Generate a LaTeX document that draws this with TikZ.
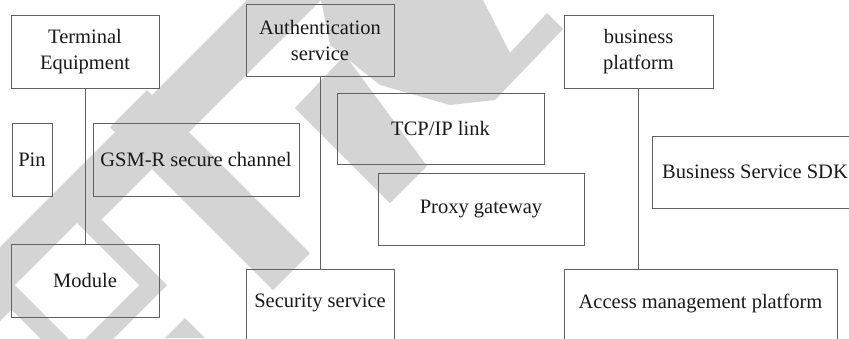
\documentclass[tikz,border=0pt]{standalone}
\usepackage{fontspec}
\setmainfont{Liberation Serif}
\begin{document}
\begin{tikzpicture}[x=1pt,y=-1pt,
  box/.style={draw=black!62,line width=1pt,inner sep=0pt},
  lbl/.style={font=\fontsize{20.5}{26}\selectfont,align=center,text=black!90},
  conn/.style={draw=black!62,line width=1pt},
  wm/.style={fill=black!17,draw=none}]
\useasboundingbox (0,0) rectangle (849,338);
% watermark (approximate)
\fill[wm] (247,0) -- (321,0) -- (0,321) -- (0,247) -- cycle;
\fill[wm] (-13,285) -- (77,195) -- (167,285) -- (77,375) -- cycle;
\fill[white] (15,285) -- (77,223) -- (139,285) -- (77,347) -- cycle;
\fill[wm] (147,90) -- (310,253) -- (273,290) -- (110,127) -- cycle;
\fill[wm] (165,338) -- (185,318) -- (205,338) -- cycle;
\fill[wm] (321,0) -- (483,0) -- (510,53) -- (547,13) -- (563,29) -- (495,100) -- (450,105) -- (380,85) -- (330,45) -- cycle;
\fill[wm] (295,108) -- (345,55) -- (427,166) -- (390,203) -- cycle;
% boxes
\draw[box] (11,15) rectangle (159,88);
\node[lbl] (te) at (85,51.5) {Terminal\\Equipment};
\draw[box] (246,4) rectangle (394,76);
\node[lbl] (as) at (320,40) {Authentication\\service};
\draw[box] (564,15) rectangle (713,88);
\node[lbl] (bp) at (638.5,51.5) {business\\platform};
\draw[box] (12,123) rectangle (52,196);
\node[lbl] (pin) at (32,159.5) {Pin};
\draw[box] (93,123) rectangle (299,196);
\node[lbl] (gsm) at (196,159.5) {GSM-R secure channel};
\draw[box] (337,93) rectangle (544,164);
\node[lbl] (tcp) at (440.5,128.5) {TCP/IP link};
\draw[box] (378,173) rectangle (584,245);
\node[lbl] (proxy) at (481,209) {Proxy gateway};
\draw[box] (860,136) -- (652,136) -- (652,208) -- (860,208);
\node[lbl] (sdk) at (755,172) {Business Service SDK};
\draw[box] (11,244) rectangle (159,317);
\node[lbl] (mod) at (85,280.5) {Module};
\draw[box] (246,345) -- (246,269) -- (394,269) -- (394,345);
\node[lbl] (sec) at (320,303) {Security service};
\draw[box] (564,345) -- (564,269) -- (837,269) -- (837,345);
\node[lbl] (amp) at (700.5,303) {Access management platform};
% connectors
\coordinate (c1a) at (85,88); \coordinate (c1b) at (85,244);
\coordinate (c2a) at (320,76); \coordinate (c2b) at (320,269);
\coordinate (c3a) at (638,88); \coordinate (c3b) at (638,269);
\draw[conn] (c1a) -- (c1b);
\draw[conn] (c2a) -- (c2b);
\draw[conn] (c3a) -- (c3b);
\end{tikzpicture}
\end{document}
